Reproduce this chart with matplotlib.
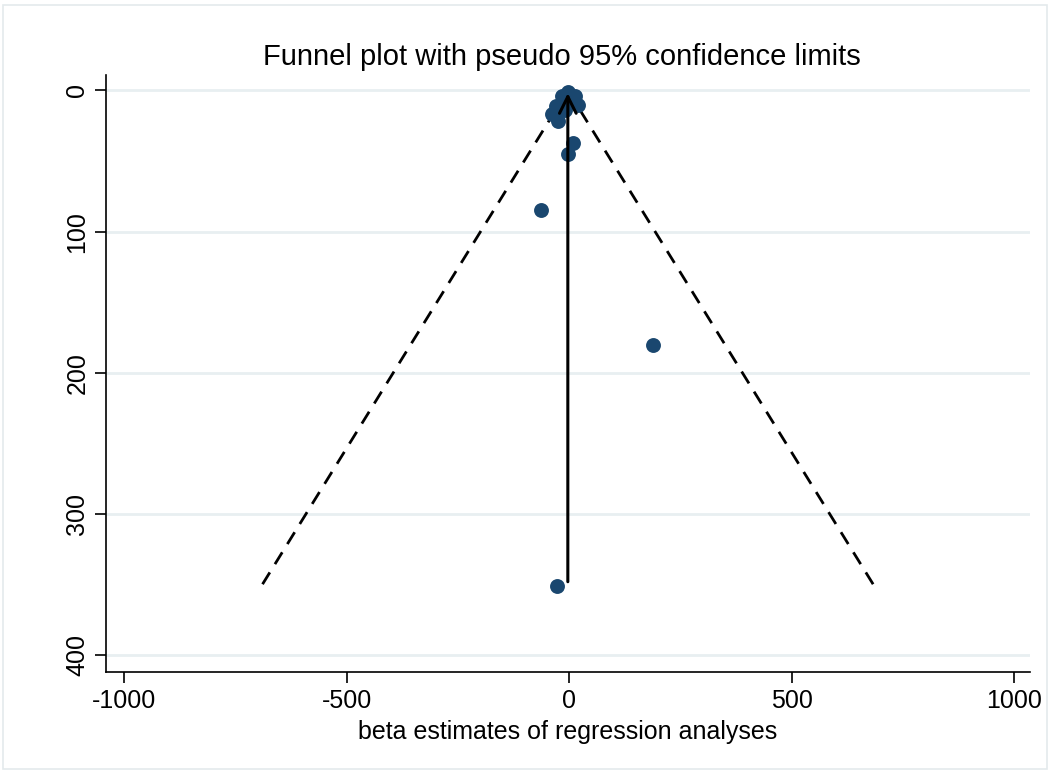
import matplotlib
matplotlib.use("Agg")
import matplotlib.pyplot as plt
from matplotlib.patches import Rectangle
import numpy as np

plt.rcParams['font.family'] = ['Liberation Sans', 'DejaVu Sans']
plt.rcParams['axes.unicode_minus'] = False

# study estimates and their standard errors
beta = [-2, -16, 13, 20, -29, -38, -25, -9, 6, 9, -2, -63, 188, -27]
se = [1, 4, 4, 10, 11, 17, 22, 14, 7, 37, 45, 85, 180, 351]

pooled = -3
se_max = 350
z = 1.96

fig = plt.figure(figsize=(10.5, 7.72), dpi=100)
fig.patches.append(Rectangle((0.003, 0.004), 0.994, 0.99, transform=fig.transFigure,
                             fill=False, edgecolor='#e4eaec', lw=1.2))
ax = fig.add_axes([0.101, 0.1295, 0.880, 0.7735])

# grid lines on the SE axis
for yv in [0, 100, 200, 300, 400]:
    ax.axhline(yv, color='#e8eff1', lw=2, zorder=0)

# pseudo 95% confidence limits
se_line = np.array([0, se_max])
ax.plot(pooled - z * se_line, se_line, color='black', lw=2, ls=(0, (5, 3.5)), zorder=2)
ax.plot(pooled + z * se_line, se_line, color='black', lw=2, ls=(0, (5, 3.5)), zorder=2)

ax.scatter(beta, se, s=115, color='#1a476f', zorder=3, linewidths=0)

# pooled estimate line
ax.annotate('', xy=(pooled, 0), xytext=(pooled, se_max),
            arrowprops=dict(arrowstyle='->', color='black', lw=2.2, mutation_scale=30),
            zorder=4)

ax.set_xlim(-1040, 1035)
ax.set_ylim(412, -11)
ax.set_xticks([-1000, -500, 0, 500, 1000])
ax.set_yticks([0, 100, 200, 300, 400])
ax.tick_params(axis='both', labelsize=18, length=8, width=1.2, pad=4)
for lab in ax.get_yticklabels():
    lab.set_rotation(90)
    lab.set_va('center')
ax.spines['top'].set_visible(False)
ax.spines['right'].set_visible(False)
ax.spines['left'].set_linewidth(1.2)
ax.spines['bottom'].set_linewidth(1.2)

ax.set_xlabel('beta estimates of regression analyses', fontsize=18, labelpad=5)
fig.text(0.535, 0.926, 'Funnel plot with pseudo 95% confidence limits', fontsize=21,
         ha='center', va='center')

fig.savefig('out.png', dpi=100)
